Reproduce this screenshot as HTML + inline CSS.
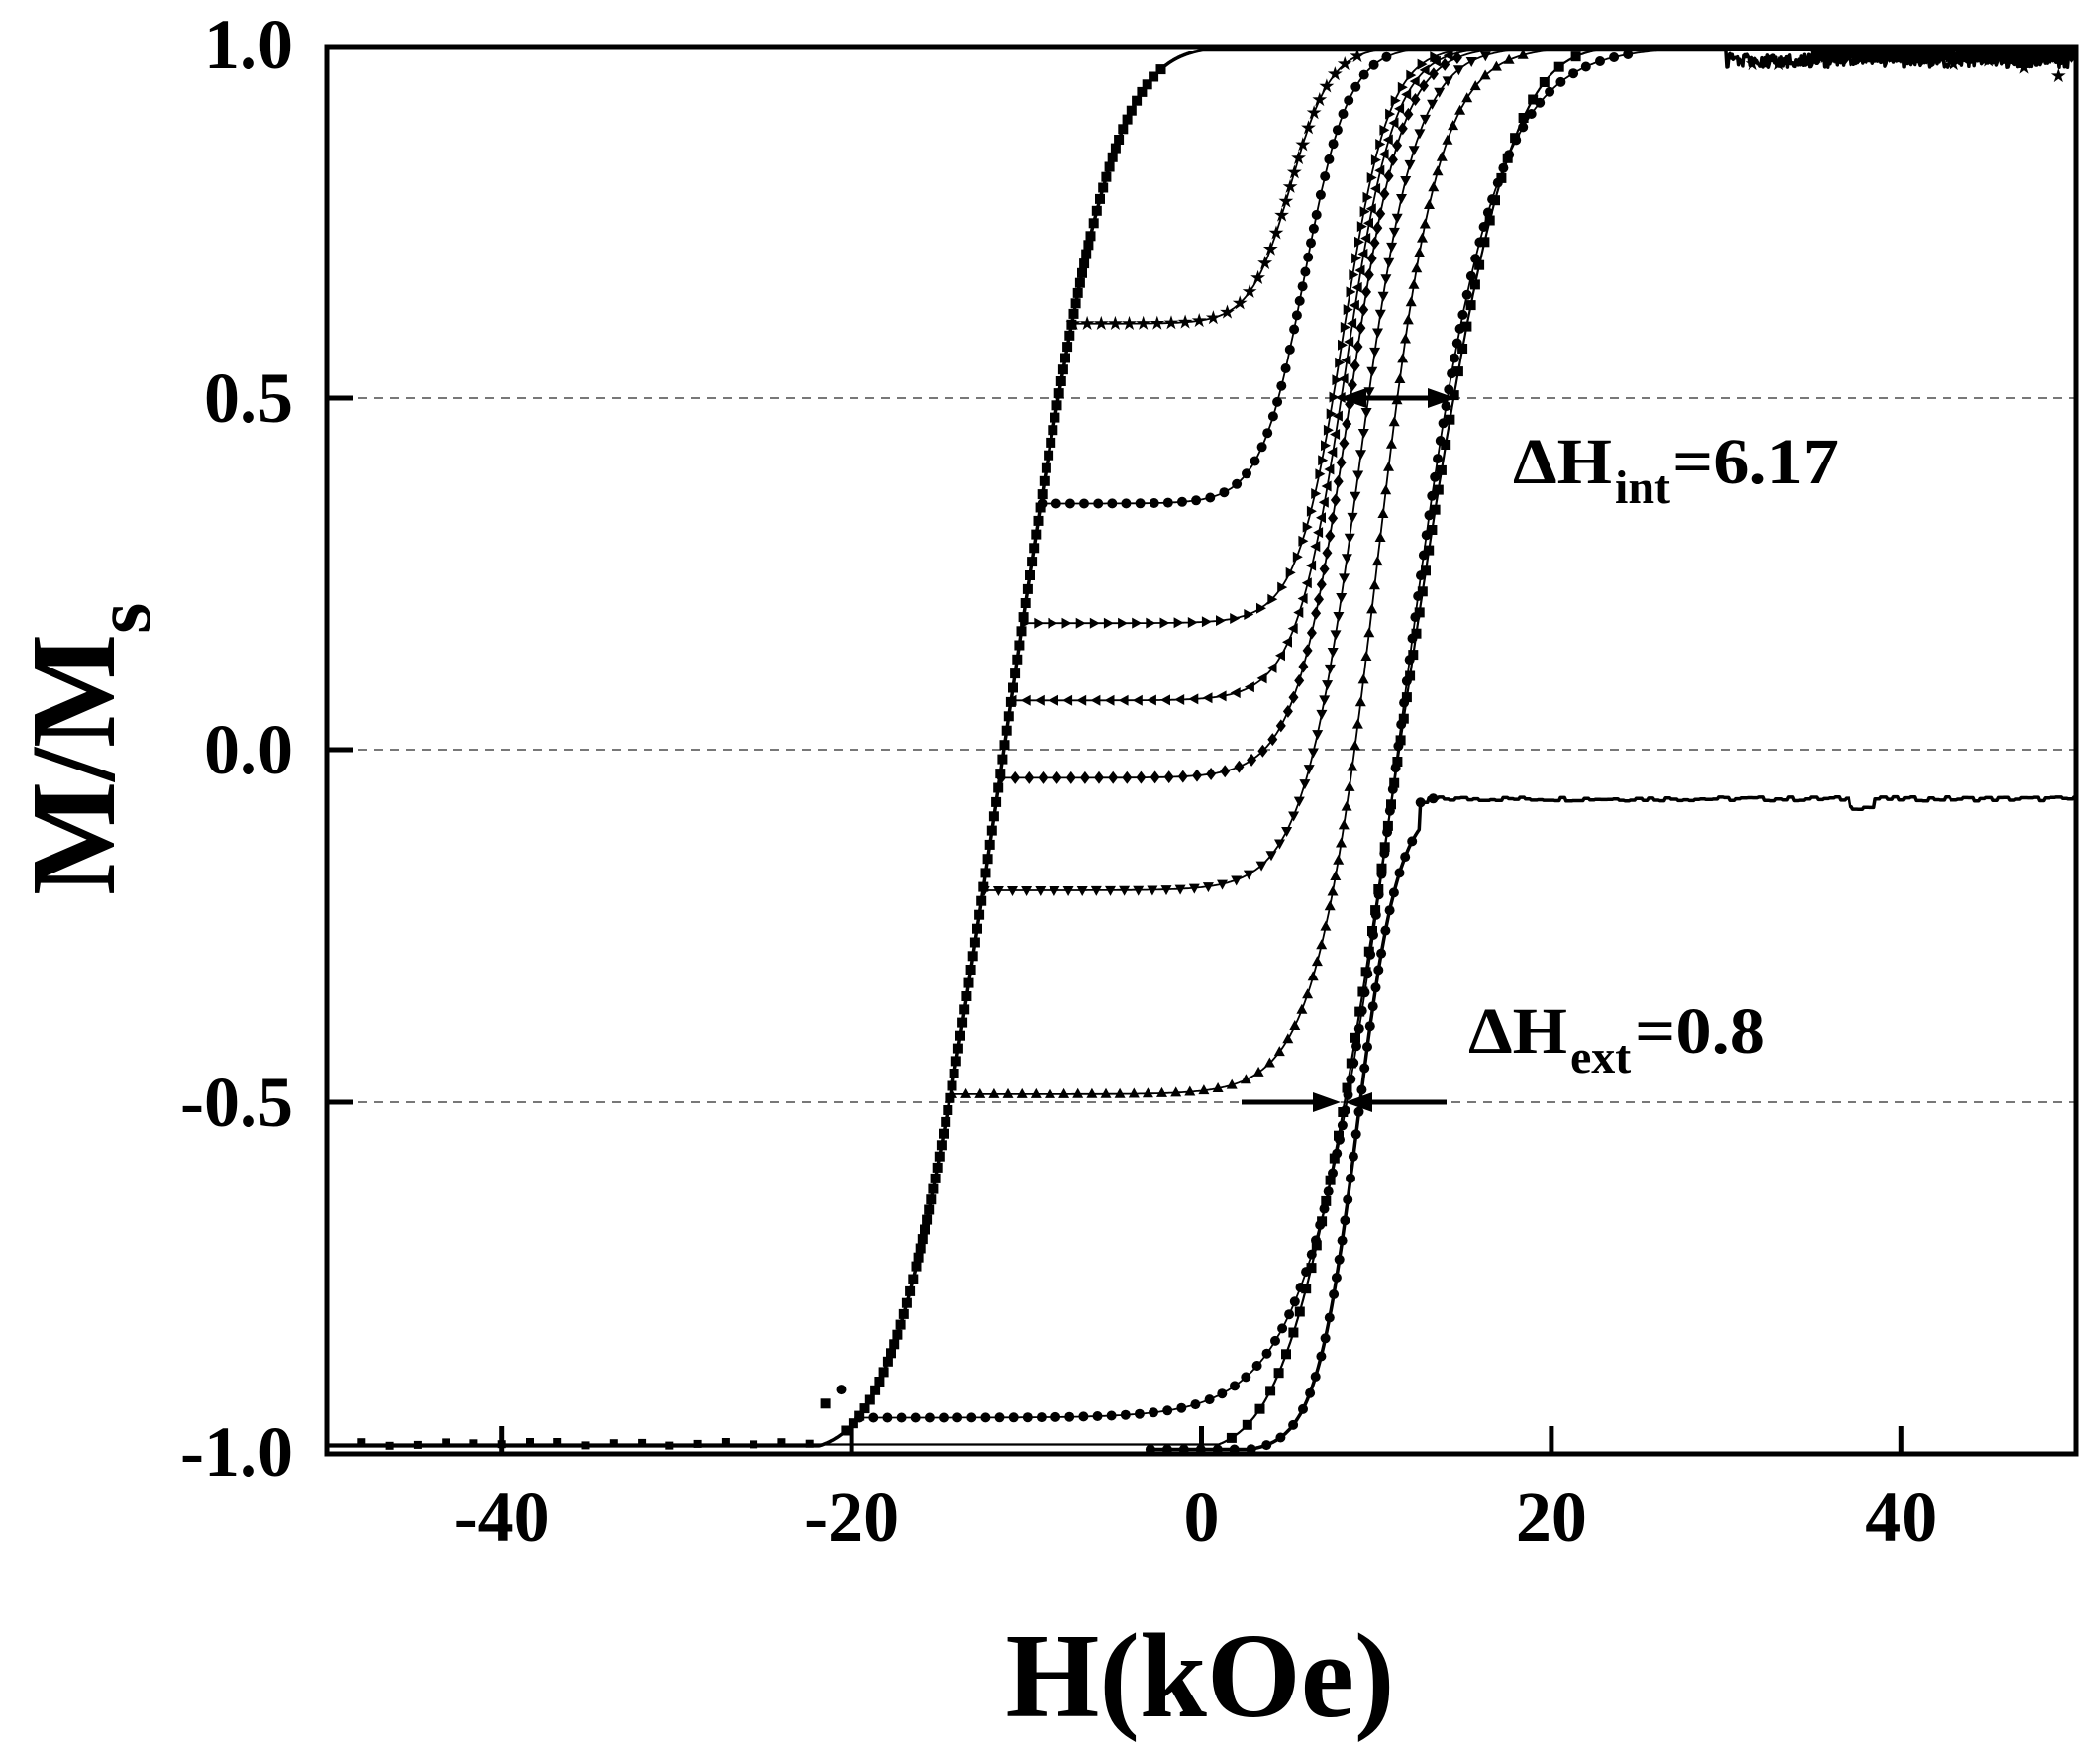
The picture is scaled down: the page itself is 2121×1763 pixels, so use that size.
<!DOCTYPE html>
<html><head><meta charset="utf-8"><style>
html,body{margin:0;padding:0;background:#fff;}
svg{display:block;}
text{font-family:"Liberation Serif",serif;font-weight:bold;fill:#000;}
</style></head><body>
<svg id="s" width="2121" height="1763" viewBox="0 0 2121 1763" xmlns="http://www.w3.org/2000/svg">
<rect width="2121" height="1763" fill="#fff"/>
<g stroke="#666" stroke-width="1.8" stroke-dasharray="9,7">
<line x1="362" y1="402" x2="2097" y2="402"/>
<line x1="362" y1="757" x2="2097" y2="757"/>
<line x1="362" y1="1113" x2="2097" y2="1113"/>
</g>
<g id="curves"></g>
<rect x="330" y="47" width="1767" height="1421" fill="none" stroke="#000" stroke-width="5"/>
<g stroke="#000" stroke-width="5">
<line x1="330" y1="402" x2="357" y2="402"/>
<line x1="330" y1="757" x2="357" y2="757"/>
<line x1="330" y1="1113" x2="357" y2="1113"/>
<line x1="506.7" y1="1468" x2="506.7" y2="1440"/>
<line x1="860.1" y1="1468" x2="860.1" y2="1440"/>
<line x1="1213.5" y1="1468" x2="1213.5" y2="1440"/>
<line x1="1566.9" y1="1468" x2="1566.9" y2="1440"/>
<line x1="1920.3" y1="1468" x2="1920.3" y2="1440"/>
</g>
<g font-size="72" text-anchor="end">
<text x="296" y="69">1.0</text>
<text x="296" y="426">0.5</text>
<text x="296" y="781">0.0</text>
<text x="296" y="1137">-0.5</text>
<text x="296" y="1490">-1.0</text>
</g>
<g font-size="72" text-anchor="middle">
<text x="506.7" y="1556">-40</text>
<text x="860.1" y="1556">-20</text>
<text x="1213.5" y="1556">0</text>
<text x="1566.9" y="1556">20</text>
<text x="1920.3" y="1556">40</text>
</g>
<text x="1212" y="1733" font-size="122" text-anchor="middle">H(kOe)</text>
<text transform="translate(115,904) rotate(-90)" font-size="122">M/M<tspan font-size="80" dy="36">s</tspan></text>
<text x="1528" y="488" font-size="66" textLength="100" lengthAdjust="spacingAndGlyphs">ΔH</text>
<text x="1631" y="508" font-size="48">int</text>
<text x="1689" y="488" font-size="66" textLength="168" lengthAdjust="spacingAndGlyphs">=6.17</text>
<text x="1483" y="1063" font-size="66" textLength="100" lengthAdjust="spacingAndGlyphs">ΔH</text>
<text x="1586" y="1083" font-size="48">ext</text>
<text x="1651" y="1063" font-size="66" textLength="132" lengthAdjust="spacingAndGlyphs">=0.8</text>
<g stroke="#000" stroke-width="5" fill="#000">
<line x1="1366" y1="402" x2="1455" y2="402"/>
<polygon points="1352,402 1380,392 1380,412" stroke="none"/>
<polygon points="1470,402 1442,392 1442,412" stroke="none"/>
<line x1="1254" y1="1113" x2="1340" y2="1113"/>
<polygon points="1354,1113 1326,1103 1326,1123" stroke="none"/>
<line x1="1372" y1="1113" x2="1461" y2="1113"/>
<polygon points="1358,1113 1386,1103 1386,1123" stroke="none"/>
</g>
</svg>
<script>
(function(){
var g=document.getElementById("curves");
function X(h){return 1213.5+17.67*h;}
function Y(m){return 757-710*m;}
function A(h){var x=(h-11.3)/5.9;return Math.tanh(x+0.15*x*x*x);}
function D(h){return -A(-h);}
function noise(i){var v=Math.sin(i*12.9898)*43758.5453;return v-Math.floor(v);}
var out="";
function path(pts,sw){var d="";for(var i=0;i<pts.length;i++){d+=(i?"L":"M")+pts[i][0].toFixed(1)+","+pts[i][1].toFixed(1);}
 out+='<path d="'+d+'" fill="none" stroke="#000" stroke-width="'+sw+'" stroke-linejoin="round"/>';}
function marker(x,y,t,s){
 s=s||5;
 if(t=="c")out+='<circle cx="'+x.toFixed(1)+'" cy="'+y.toFixed(1)+'" r="'+s+'"/>';
 else if(t=="s")out+='<rect x="'+(x-s).toFixed(1)+'" y="'+(y-s).toFixed(1)+'" width="'+2*s+'" height="'+2*s+'"/>';
 else{var p;
  if(t=="u")p=[[0,-1.2],[1.1,0.8],[-1.1,0.8]];
  else if(t=="d")p=[[0,1.2],[1.1,-0.8],[-1.1,-0.8]];
  else if(t=="r")p=[[1.2,0],[-0.8,1.1],[-0.8,-1.1]];
  else if(t=="l")p=[[-1.2,0],[0.8,1.1],[0.8,-1.1]];
  else if(t=="m")p=[[0,-1.3],[1,0],[0,1.3],[-1,0]];
  else {p=[];for(var k=0;k<10;k++){var a=-Math.PI/2+k*Math.PI/5,r=k%2?0.5:1.3;p.push([r*Math.cos(a),r*Math.sin(a)]);}}
  out+='<polygon points="'+p.map(function(q){return (x+q[0]*s).toFixed(1)+","+(y+q[1]*s).toFixed(1);}).join(" ")+'"/>';}
}
function markers(pts,t,step,s){var acc=step;for(var i=1;i<pts.length;i++){var dx=pts[i][0]-pts[i-1][0],dy=pts[i][1]-pts[i-1][1];acc+=Math.sqrt(dx*dx+dy*dy);if(acc>=step){acc=0;marker(pts[i][0],pts[i][1],t,s);}}}
function solve(target){var lo=-40,hi=5;for(var i=0;i<60;i++){var mid=(lo+hi)/2;if(D(mid)>target)hi=mid;else lo=mid;}return (lo+hi)/2;}
// major descending
var pts=[];
for(var h=50;h>=-50;h-=0.06){var m=D(h);if(m>0.995)m=0.995;if(m<-0.99)m=-0.99;if(h>30&&m>0.98)m=0.99-0.02*noise(h*5);pts.push([X(h),Y(m)]);}
path(pts,3.5);
markers(pts.filter(function(p){return p[1]>Y(0.97)&&p[1]<Y(-0.97);}),"s",9,5);
// minor curves
var minors=[[0.606,5.1,2.3,"*"],[0.35,5.9,2.5,"c"],[0.18,8.1,2.6,"r"],[0.07,8.2,2.8,"l"],[-0.04,8.4,3.0,"m"],[-0.2,9.0,3.2,"d"],[-0.49,10.0,3.5,"u"],[-0.95,11.36,5.06,"c"]];
minors.forEach(function(mc,idx){
 var mr=mc[0],hr=solve(mr),c=mc[1],w=mc[2];
 function T(h){return (Math.tanh((h-c)/w)+1)/2;}
 var t0=T(hr),pts=[];
 for(var h=hr;h<=50;h+=0.08){var F=(T(h)-t0)/(1-t0);var m=mr+(1-mr)*F;if(m>0.995)m=0.995-(h>35?0.012*noise(h*7+idx):0);pts.push([X(h),Y(m)]);}
 path(pts,1.8);
 var mp=pts.filter(function(p){return p[1]>Y(0.99);});
 markers(mp,mc[3],14,mc[3]=="*"?6:5);
});
// -0.07 curve
pts=[];
for(var h=-3;h<=50;h+=0.08){var m=-0.535+0.465*Math.tanh((h-8.9)/2.35);m=Math.max(m,-0.995);if(h>12.5)m=Math.max(m,-0.075);if(h>13)m=-0.073+0.006*noise(Math.round(h*3))+(h>37&&h<38.5?-0.012:0);pts.push([X(h),Y(m)]);}
path(pts,3.5);markers(pts.filter(function(p){return p[0]<X(14);}),"c",16,5);
// major ascending
pts=[];
for(var h=-50;h<=50;h+=0.06){var m=A(h);if(m<-0.988)m=-0.988;if(m>0.995)m=0.995;pts.push([X(h),Y(m)]);}
path(pts,2.2);
markers(pts.filter(function(p){return p[1]>Y(0.99)&&p[1]<Y(-0.98);}),"s",20,5);
// bottom left noisy squares
for(var h=-48;h<-22;h+=1.6){marker(X(h),Y(-0.99+0.006*noise(h)),"s",4);}
marker(X(-21.5),Y(-0.93),"s",5);marker(X(-20.6),Y(-0.91),"c",5);
// top noisy stars at right
[[31.5,0.975],[33,0.975],[43,0.975],[47,0.97],[49,0.958],[45,0.98]].forEach(function(p){marker(X(p[0]),Y(p[1]),"*",6);});
g.innerHTML=out;
})();
</script>
</body></html>
